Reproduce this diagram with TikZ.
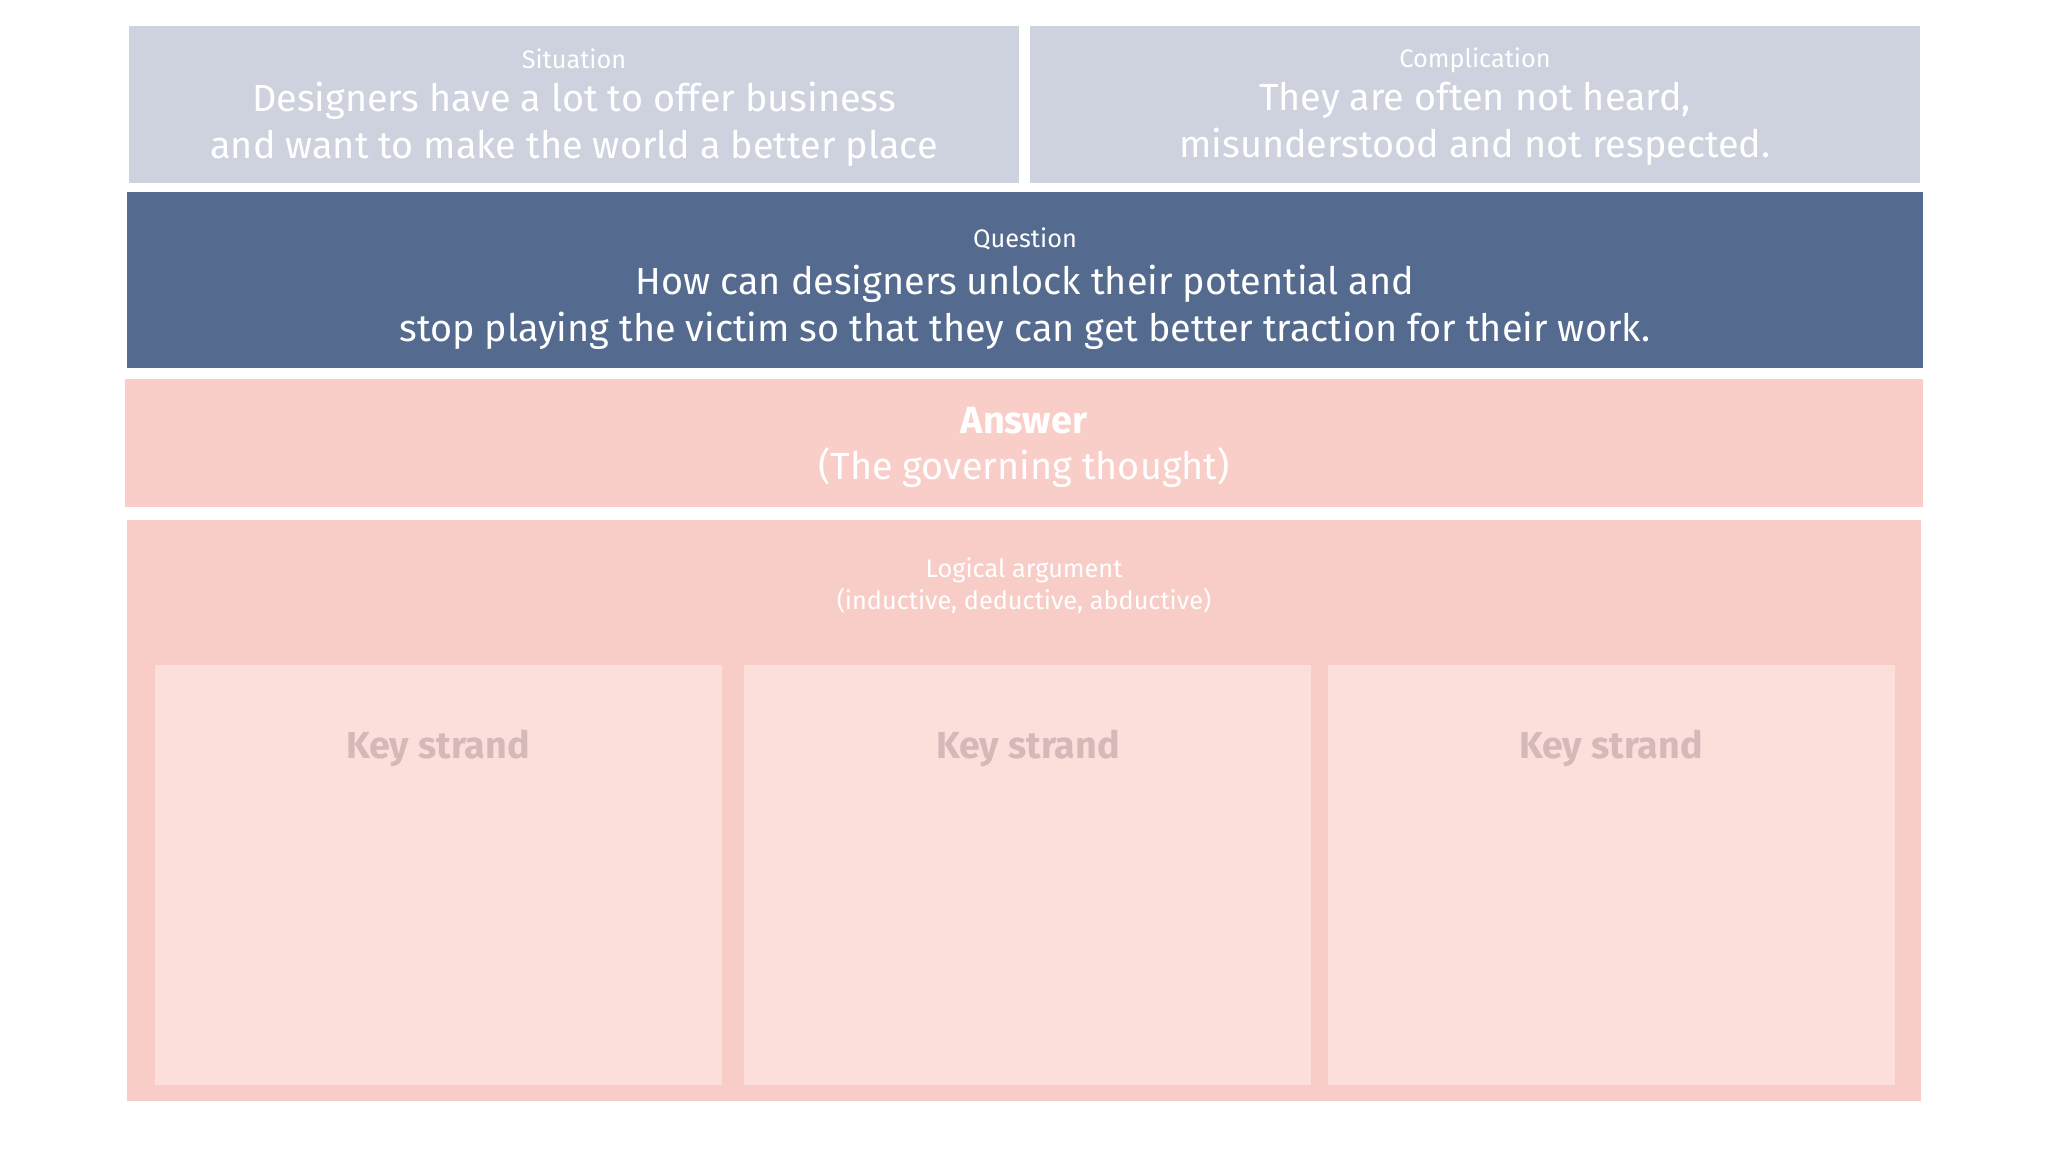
\documentclass[tikz,border=0pt]{standalone}
\usepackage{fontspec}
\setmainfont{Fira Sans}
\usetikzlibrary{positioning}
\definecolor{situationgray}{HTML}{CDD2DE}
\definecolor{questionblue}{HTML}{546A8F}
\definecolor{answerpink}{HTML}{F9CEC8}
\definecolor{argumentpink}{HTML}{F8CDC7}
\definecolor{strandpink}{HTML}{FCDEDA}
\definecolor{strandtext}{HTML}{D5B8B8}
\tikzset{
    headlabel/.style={text=white, font=\fontsize{7.2}{9}\selectfont, align=center, inner sep=0pt},
    bodylabel/.style={text=white, font=\fontsize{10.75}{13.4}\selectfont, align=center, inner sep=0pt},
    strandlabel/.style={text=strandtext, font=\bfseries\fontsize{10.7}{13.4}\selectfont, inner sep=0pt},
}

\begin{document}
\begin{tikzpicture}[x=0.01cm, y=-0.01cm]
        \useasboundingbox (0,0) rectangle (2048,1152);
        \fill[situationgray] (129,26) rectangle (1019,183);
        \fill[situationgray] (1030,26) rectangle (1920,183);
        \fill[questionblue] (127,192) rectangle (1923,368);
        \fill[answerpink] (125,379) rectangle (1923,507);
        \fill[argumentpink] (127,520) rectangle (1921,1101);
        \fill[strandpink] (155,665) rectangle (722,1085);
        \fill[strandpink] (744,665) rectangle (1311,1085);
        \fill[strandpink] (1328,665) rectangle (1895,1085);

        \node[headlabel] (sitlabel) at (574,59) {Situation};
        \node[bodylabel] (sittext) at (574,124) {Designers have a lot to offer business\\and want to make the world a better place};
        \node[headlabel] (complabel) at (1475,60) {Complication};
        \node[bodylabel] (comptext) at (1475,124) {They are often not heard,\\misunderstood and not respected.};
        \node[headlabel] (queslabel) at (1025,239) {Question};
        \node[bodylabel] (questext) at (1025,307) {How can designers unlock their potential and\\stop playing the victim so that they can get better traction for their work.};
        \node[bodylabel, font=\bfseries\fontsize{10.75}{13.4}\selectfont] (anslabel) at (1024,421) {Answer};
        \node[bodylabel] (anstext) at (1024,468) {(The governing thought)};
        \node[headlabel] (arglabel) at (1024,586) {Logical argument\\(inductive, deductive, abductive)};
        \node[strandlabel] (strandA) at (438,748) {Key strand};
        \node[strandlabel] (strandB) at (1028,748) {Key strand};
        \node[strandlabel] (strandC) at (1611,748) {Key strand};
\end{tikzpicture}
\end{document}
